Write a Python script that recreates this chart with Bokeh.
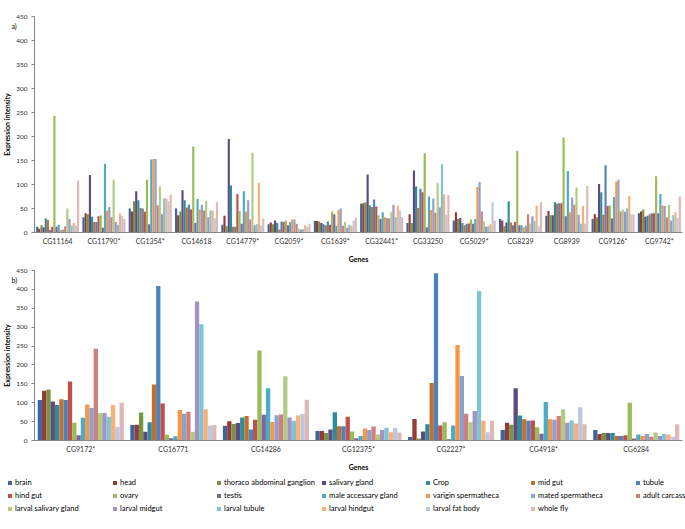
from bokeh.plotting import figure
from bokeh.models import (Range1d, FactorRange, SingleIntervalTicker, Legend,
                          LegendItem, ColumnDataSource)
from bokeh.transform import dodge
from bokeh.layouts import column
from bokeh.embed import file_html
from bokeh.resources import INLINE

FONT = "Lato"

tissues = ["brain", "head", "thoraco abdominal ganglion", "salivary gland", "Crop",
           "mid gut", "tubule", "hind gut", "ovary", "testis", "male accessary gland",
           "varigin spermatheca", "mated spermatheca", "adult carcass",
           "larval salivary gland", "larval midgut", "larval tubule", "larval hindgut",
           "larval fat body", "whole fly"]
colors = ["#3D669C", "#963A38", "#779440", "#5E4B7E", "#318B9E", "#C2702E",
          "#4F81BD", "#C0504D", "#9BBB59", "#8064A2", "#4BACC6", "#F79646",
          "#8AA2D0", "#CF7F7D", "#B3CB81", "#A293C2", "#7CC4D6", "#F9B077",
          "#BCC8E1", "#DDB8B8"]

# ---- panel a) genes ----
genes_a = ["CG11164", "CG11790*", "CG1354*", "CG14618", "CG14779*", "CG2059*", "CG1639*",
           "CG32441*", "CG33250", "CG5029*", "CG8239", "CG8939", "CG9126*", "CG9742*"]
cg11164 = [12, 8, 15, 11, 29, 26, 5, 12, 243, 12, 16, 5, 6, 13, 50, 28, 14, 20, 14, 108]
cg11790 = [32, 40, 38, 120, 33, 22, 22, 34, 36, 10, 143, 46, 53, 32, 110, 22, 16, 40, 34, 28]
cg1354 = [50, 44, 65, 86, 67, 51, 50, 43, 110, 17, 152, 153, 153, 57, 96, 38, 71, 71, 65, 79]
cg14618 = [50, 36, 44, 88, 67, 52, 58, 48, 179, 20, 70, 48, 58, 46, 66, 32, 46, 46, 30, 63]
cg14779 = [16, 35, 13, 195, 98, 12, 12, 80, 45, 18, 86, 44, 67, 27, 166, 15, 17, 103, 14, 29]
cg2059 = [17, 21, 17, 25, 20, 6, 23, 22, 25, 15, 22, 27, 27, 18, 8, 6, 7, 15, 12, 17]
cg1639 = [24, 24, 23, 20, 17, 15, 23, 16, 44, 38, 14, 47, 50, 14, 22, 10, 16, 14, 25, 31]
cg32441 = [60, 61, 63, 121, 57, 53, 69, 54, 36, 28, 42, 32, 30, 29, 42, 58, 32, 56, 46, 32]
cg33250 = [20, 38, 20, 129, 96, 51, 91, 84, 165, 11, 75, 47, 71, 41, 103, 52, 142, 79, 37, 78]
cg5029 = [25, 42, 28, 30, 20, 15, 18, 19, 27, 18, 28, 95, 105, 44, 23, 12, 13, 17, 63, 25]
cg8239 = [28, 25, 13, 21, 65, 21, 15, 22, 170, 15, 15, 11, 14, 38, 19, 34, 24, 56, 13, 63]
cg8939 = [35, 45, 36, 36, 63, 60, 61, 61, 198, 34, 128, 42, 73, 58, 94, 37, 18, 55, 19, 97]
cg9126 = [28, 38, 32, 101, 84, 37, 140, 55, 56, 29, 74, 106, 110, 44, 48, 43, 50, 76, 38, 38]
cg9742 = [40, 44, 48, 33, 35, 38, 40, 40, 117, 40, 80, 56, 55, 31, 58, 25, 36, 42, 30, 75]
values_a = [cg11164, cg11790, cg1354, cg14618, cg14779, cg2059, cg1639,
            cg32441, cg33250, cg5029, cg8239, cg8939, cg9126, cg9742]

# ---- panel b) genes ----
genes_b = ["CG9172*", "CG16771", "CG14286", "CG12375*", "CG2227*", "CG4918*", "CG6284"]
cg9172 = [107, 132, 135, 103, 94, 109, 107, 156, 47, 14, 60, 95, 86, 243, 72, 73, 63, 94, 36, 100]
cg16771 = [41, 42, 74, 23, 48, 148, 409, 98, 15, 6, 11, 81, 71, 76, 23, 368, 308, 83, 40, 41]
cg14286 = [39, 51, 44, 46, 61, 65, 29, 55, 238, 68, 138, 49, 67, 69, 170, 61, 52, 66, 70, 108]
cg12375 = [25, 25, 20, 29, 75, 38, 38, 63, 24, 6, 12, 32, 28, 37, 16, 28, 34, 22, 33, 21]
cg2227 = [9, 57, 5, 24, 43, 152, 443, 40, 48, 3, 40, 253, 171, 71, 48, 78, 396, 52, 22, 52]
cg4918 = [28, 47, 42, 138, 66, 56, 52, 53, 35, 18, 102, 56, 55, 65, 83, 47, 53, 45, 88, 43]
cg6284 = [28, 17, 20, 20, 20, 12, 12, 14, 100, 5, 16, 12, 17, 10, 21, 12, 17, 16, 10, 43]
values_b = [cg9172, cg16771, cg14286, cg12375, cg2227, cg4918, cg6284]

y_ticks_interval = 50
y_max = 450

W = 0.93 / len(tissues)
FIG_W = 685
LEFT = 33
RIGHT = 3


def panel(genes, values, tag, height, top, bottom):
    src = ColumnDataSource({"gene": genes,
                            **{f"t{j}": [v[j] for v in values] for j in range(len(tissues))}})
    p = figure(width=FIG_W, height=height, x_range=FactorRange(*genes),
               y_range=Range1d(0, y_max), toolbar_location=None, output_backend="svg",
               min_border_left=LEFT, min_border_right=RIGHT, min_border_top=top,
               min_border_bottom=bottom, outline_line_color=None)
    for j in range(len(tissues)):
        p.vbar(x=dodge("gene", (j - (len(tissues) - 1) / 2) * W, range=p.x_range),
               top=f"t{j}", width=W, source=src, fill_color=colors[j], line_color=None)
    p.grid.visible = False
    p.yaxis.ticker = SingleIntervalTicker(interval=y_ticks_interval)
    for ax in (p.xaxis[0], p.yaxis[0]):
        ax.axis_line_color = "#868686"
        ax.major_label_text_font = FONT
        ax.major_label_text_color = "#303030"
        ax.axis_label_text_font = FONT
        ax.axis_label_text_font_size = "7px"
        ax.axis_label_text_font_style = "bold"
        ax.axis_label_text_color = "#000000"
        ax.minor_tick_line_color = None
    p.yaxis.major_label_text_font_size = "6.5px"
    p.xaxis.major_label_text_font_size = "7px"
    p.yaxis.major_tick_line_color = "#868686"
    p.yaxis.major_tick_out = 3
    p.yaxis.major_tick_in = 0
    p.yaxis.major_label_standoff = 3
    p.yaxis.axis_label = "Expression intensity"
    p.yaxis.axis_label_standoff = 2
    p.xaxis.major_tick_line_color = None
    p.xaxis.major_tick_out = 0
    p.xaxis.major_tick_in = 0
    p.xaxis.major_label_standoff = 4
    p.xaxis.axis_label = "Genes"
    p.xaxis.axis_label_standoff = 7
    # panel tag "a)" / "b)" as the plot title, pulled down-left beside the y ticks
    p.title.text = tag
    p.title.align = "left"
    p.title.offset = -23
    p.title.standoff = -26
    p.title.text_font = FONT
    p.title.text_font_size = "7px"
    p.title.text_font_style = "normal"
    p.title.text_color = "#000000"
    return p


p1 = panel(genes_a, values_a, "a)", 265, 16, 32)
p2 = panel(genes_b, values_b, "b)", 208, 5, 32)

# ---- legend strip (separate root so its frame is not aligned to the axes) ----
P3_H = 56
p3 = figure(width=FIG_W, height=P3_H, x_range=Range1d(0, 1), y_range=Range1d(0, 1),
            toolbar_location=None, output_backend="svg", min_border_left=0,
            min_border_right=0, min_border_top=0, min_border_bottom=0,
            x_axis_location=None, y_axis_location=None, outline_line_color=None)
p3.grid.visible = False
swatches = [p3.vbar(x=[5], top=[5], width=0.1, fill_color=c, line_color=None) for c in colors]
ncol = 7
for c in range(ncol):
    idx = [j for j in (c, c + ncol, c + 2 * ncol) if j < len(tissues)]
    items = [LegendItem(label=tissues[j], renderers=[swatches[j]]) for j in idx]
    nrows = len(idx)
    leg_h = nrows * 10 + (nrows - 1) * 3
    leg = Legend(items=items, location=(round(7 + c * 104.6), P3_H - 4 - leg_h),
                 orientation="vertical", padding=0, margin=0, spacing=3,
                 glyph_width=5, glyph_height=5, label_height=10, label_standoff=3,
                 label_text_font=FONT, label_text_font_size="7.5px",
                 label_text_color="#000000", border_line_color=None,
                 background_fill_alpha=0)
    p3.add_layout(leg)

charts = column(p1, p2, spacing=0)
open("out.html", "w").write(file_html([charts, p3], INLINE))
